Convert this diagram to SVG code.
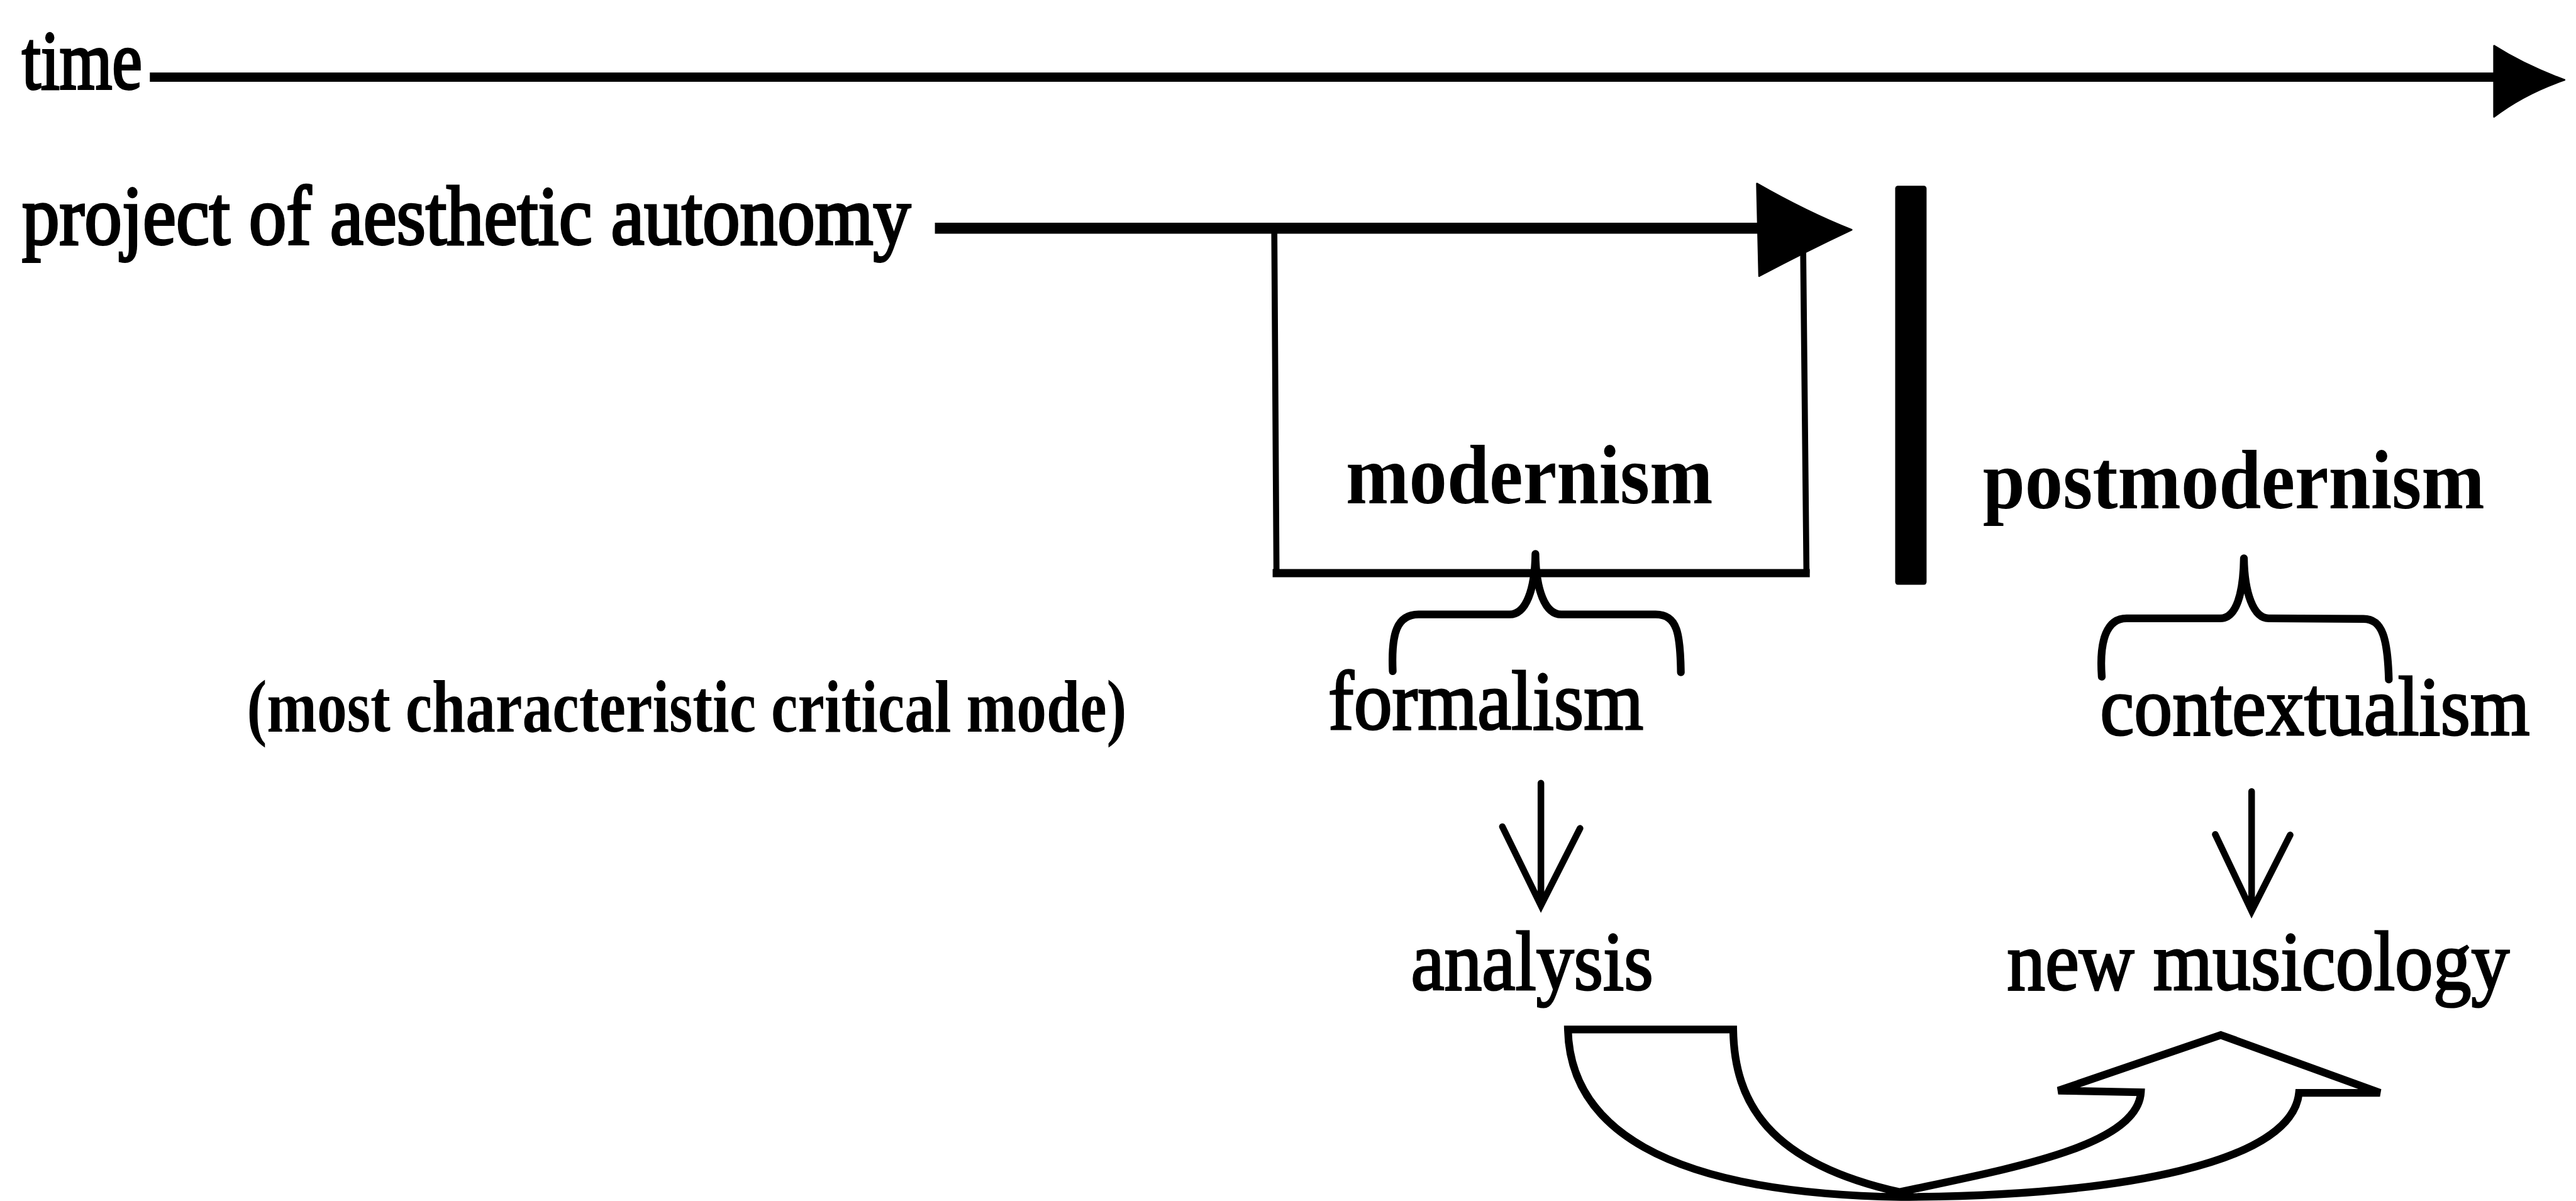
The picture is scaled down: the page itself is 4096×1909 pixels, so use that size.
<svg xmlns="http://www.w3.org/2000/svg" width="4096" height="1909" viewBox="0 0 4096 1909">
  <style>
    text { font-family: "Liberation Serif", "Times New Roman", serif; fill: #000; }
    .lbl { font-size: 152px; stroke: #000; stroke-width: 3.5px; }
    .strong { font-size: 152px; font-weight: bold; }
    .note { font-size: 136px; font-weight: bold; }
    .dark { stroke-width: 4.5px; }
    .line { fill: none; stroke: #000; stroke-linecap: butt; }
    .brace { fill: none; stroke: #000; stroke-width: 14; stroke-linecap: round; stroke-linejoin: round; }
    .down { fill: none; stroke: #000; stroke-width: 12; stroke-linecap: round; stroke-linejoin: miter; }
    .head { fill: #000; stroke: #000; stroke-width: 3; stroke-linejoin: round; }
    .block { fill: #fff; stroke: #000; stroke-width: 14; stroke-linejoin: miter; }
  </style>
  <rect width="4096" height="1909" fill="#fff"/>
  <g transform="scale(0.876)">
    <!-- timeline and the project of aesthetic autonomy -->
    <g id="time">
      <text class="lbl dark" x="40" y="161" textLength="218" lengthAdjust="spacingAndGlyphs">time</text>
    </g>
    <g id="project">
      <text class="lbl dark" x="40" y="443" textLength="1613" lengthAdjust="spacingAndGlyphs">project of aesthetic autonomy</text>
    </g>
    <g id="critical-mode">
      <text class="note" x="448" y="1328" textLength="1597" lengthAdjust="spacingAndGlyphs">(most characteristic critical mode)</text>
    </g>

    <!-- modernism box -->
    <g id="modernism">
      <path class="line" d="M2313,414 L2317,1040 M3273,455 L3279,1040" stroke-width="11"/>
      <path class="line" d="M2310,1040 L3285,1040" stroke-width="15"/>
      <text class="strong" x="2443" y="913" textLength="666" lengthAdjust="spacingAndGlyphs">modernism</text>
    </g>

    <!-- the break between the two eras -->
    <g id="divider">
      <rect x="3440" y="337" width="57" height="724" rx="5" fill="#000"/>
    </g>

    <g id="postmodernism">
      <text class="strong" x="3599" y="922" textLength="911" lengthAdjust="spacingAndGlyphs">postmodernism</text>
    </g>

    <g id="formalism">
      <text class="lbl" x="2411" y="1323" textLength="572" lengthAdjust="spacingAndGlyphs">formalism</text>
    </g>
    <g id="contextualism">
      <text class="lbl" x="3812" y="1333" textLength="780" lengthAdjust="spacingAndGlyphs">contextualism</text>
    </g>
    <g id="analysis">
      <text class="lbl" x="2561" y="1796" textLength="440" lengthAdjust="spacingAndGlyphs">analysis</text>
    </g>
    <g id="new-musicology">
      <text class="lbl" x="3643" y="1796" textLength="912" lengthAdjust="spacingAndGlyphs">new musicology</text>
    </g>

    <g id="connectors">
      <!-- time axis -->
      <path class="line" d="M272,140 L4532,140" stroke-width="17"/>
      <path class="head" d="M4527,83 Q4582,118 4655,145 Q4582,170 4527,212 Z"/>
      <!-- project arrow -->
      <path class="line" d="M1697,414 L3194,414" stroke-width="20"/>
      <path class="head" d="M3189,333 Q3280,385 3361,417 Q3280,455 3193,501 Z"/>

      <!-- braces -->
      <path class="brace" d="M2528,1218 C2525,1150 2535,1115 2575,1115 L2740,1115 C2770,1115 2786,1070 2787,1005 C2788,1070 2804,1115 2834,1115 L3005,1115 C3045,1115 3050,1150 3051,1220"/>
      <path class="brace" d="M3815,1228 C3810,1160 3825,1122 3860,1122 L4030,1122 C4060,1122 4072,1075 4073,1013 C4074,1075 4090,1122 4118,1122 L4290,1123 C4325,1123 4334,1160 4336,1233"/>

      <!-- downward arrows -->
      <path class="down" d="M2797,1421 L2797,1640 M2727,1500 L2797,1643 L2868,1503"/>
      <path class="down" d="M4087,1436 L4087,1650 M4021,1514 L4087,1653 L4157,1515"/>

      <!-- curved block arrow from analysis to new musicology -->
      <path class="block" d="M2846,1868 L3146,1868 C3148,2000 3210,2110 3448,2163 C3650,2120 3880,2080 3886,1982 L3736,1979 L4031,1878 L4320,1983 L4173,1983 C4160,2110 3850,2170 3450,2172 C3010,2165 2850,2040 2846,1868 Z"/>
    </g>
  </g>
</svg>
